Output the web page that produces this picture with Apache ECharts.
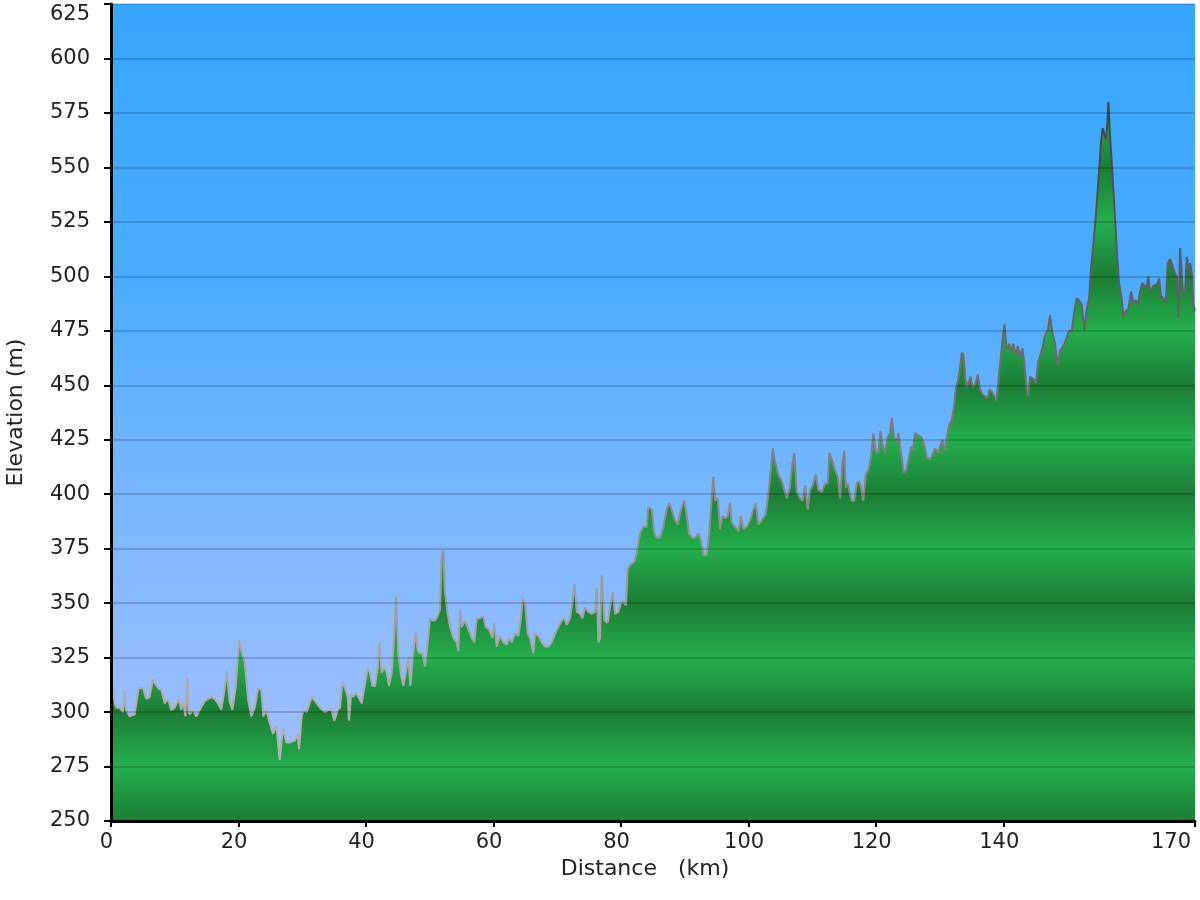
<!DOCTYPE html>
<html>
<head>
<meta charset="utf-8">
<script src="https://cdn.jsdelivr.net/npm/echarts@6/dist/echarts.min.js"></script>
<style>
html,body{margin:0;padding:0;background:#ffffff;}
#chart{width:1200px;height:900px;}
</style>
</head>
<body>
<div id="chart"></div>
<script>
// ---- data ----
const distanceKm = [
0,0.25,0.58,0.84,1.36,1.88,2.14,2.35,2.56,2.93,3.71,4.34,5.02,5.54,6.06,6.59,6.95,7.37,7.9,8.42,8.94,9.46,9.99,10.6,11.03,11.3,11.66,11.97,12.15,12.34,12.86,13.38,13.9,14.69,15.73,16.26,16.78,17.3,17.83,18.14,18.6,19.03,19.55,20.08,20.44,20.97,21.49,22.0,22.54,23.06,23.58,23.89,24.36,24.89,25.41,25.93,26.46,26.98,27.49,28.03,28.34,28.86,29.28,29.49,29.91,30.17,30.69,31.47,32.0,32.78,33.56,34.09,34.61,35.03,35.55,35.92,36.28,36.7,37.12,37.33,37.64,38.0,38.38,38.79,39.32,39.73,40.26,40.62,40.98,41.41,41.83,42.08,42.45,42.87,43.24,43.6,44.02,44.44,44.7,45.06,45.48,45.85,46.22,46.63,46.95,47.32,47.78,48.1,48.46,48.83,49.25,49.67,50.03,50.4,50.82,51.23,51.6,51.86,52.12,52.38,52.8,53.17,53.69,54.21,54.47,54.74,55.0,55.52,56.04,56.57,56.98,57.35,57.87,58.39,58.76,59.28,59.81,60.12,60.49,61.01,61.53,62.06,62.47,62.84,63.36,63.89,64.3,64.57,64.93,65.35,65.71,66.24,66.5,67.02,67.55,68.07,68.59,69.12,69.64,70.16,70.69,71.1,71.47,71.99,72.36,72.67,73.04,73.56,73.93,74.34,74.86,75.39,75.91,76.17,76.43,76.69,76.96,77.37,77.9,78.26,78.68,79.05,79.57,80.09,80.51,80.77,81.04,81.56,82.08,82.45,82.97,83.49,84.02,84.27,84.43,84.8,85.21,85.58,86.1,86.62,87.15,87.52,87.93,88.46,88.88,89.24,89.61,89.92,90.29,90.65,91.17,91.59,92.11,92.53,92.95,93.42,93.79,94.1,94.47,94.73,95.15,95.52,95.88,96.3,96.72,97.08,97.35,97.87,98.39,98.81,99.17,99.7,100.22,100.74,101.11,101.52,102.05,102.68,103.09,103.51,103.78,104.14,104.66,105.19,105.6,105.97,106.49,106.86,107.17,107.54,108.06,108.48,108.85,109.27,109.63,110.05,110.52,110.93,111.46,111.98,112.4,112.66,113.03,113.55,113.97,114.34,114.7,115.01,115.23,115.54,115.9,116.17,116.58,116.95,117.32,117.63,117.99,118.36,118.78,119.2,119.56,119.93,120.35,120.66,120.97,121.39,121.81,122.18,122.44,122.8,123.23,123.49,123.9,124.32,124.69,125.05,125.47,125.73,126.1,126.62,127.14,127.56,127.93,128.45,128.82,129.23,129.65,130.02,130.38,130.7,131.07,131.43,131.85,132.21,132.53,132.89,133.16,133.42,133.68,133.94,134.2,134.57,134.83,135.09,135.51,135.93,136.29,136.66,137.08,137.44,137.75,138.13,138.54,138.86,139.17,139.54,139.86,140.11,140.48,140.84,141.15,141.52,141.89,142.2,142.57,142.93,143.25,143.61,143.87,144.13,144.66,145.02,145.44,145.96,146.49,146.91,147.27,147.64,148.06,148.48,148.84,149.36,149.89,150.25,150.67,151.08,151.45,151.82,152.24,152.65,153.02,153.39,153.7,154.06,154.43,154.85,155.27,155.53,155.79,156.05,156.32,156.42,156.68,156.95,157.36,157.73,158.09,158.51,158.77,159.14,159.55,159.97,160.34,160.71,161.02,161.38,161.75,162.17,162.43,162.69,162.95,163.32,163.64,164.0,164.37,164.68,165.05,165.42,165.73,166.09,166.46,166.88,167.14,167.4,167.67,167.93,168.19,168.45,168.72,168.98,169.24,169.51,169.77,170
];
const elevationM = [
300,312,304,302,302,300,310,301,300,298,299,311,311,306,307,315,313,311,310,304,306,301,302,306,301,305,298,316,300,299,301,298,301,305,307,306,304,301,311,319,305,301,311,333,328,323,306,298,302,311,310,298,301,295,290,294,278,293,286,286,286,287,290,283,298,301,300,307,305,302,300,301,301,296,301,302,314,311,307,296,308,307,309,307,304,311,320,318,312,312,321,332,318,321,318,312,318,336,353,327,317,312,318,325,312,325,337,328,327,327,321,332,343,342,342,344,347,371,374,355,345,339,334,332,328,347,339,342,338,334,332,343,343,344,339,338,334,341,330,335,332,331,334,332,336,335,343,352,350,336,334,327,336,335,332,330,330,332,336,339,342,343,340,343,350,359,346,345,343,348,346,345,346,357,332,334,363,342,341,348,355,345,346,351,350,349,366,368,369,373,382,385,385,394,394,393,382,380,380,385,393,396,393,388,386,391,395,397,390,382,380,380,382,379,372,372,382,394,408,397,398,384,390,389,390,396,387,385,383,390,384,385,388,393,396,386,388,391,400,412,421,415,409,406,402,398,403,414,419,401,398,397,404,393,402,404,409,402,401,405,405,419,416,411,408,398,414,420,403,405,400,397,397,405,406,403,397,409,411,417,428,419,419,429,423,419,426,428,435,426,424,428,419,410,411,416,422,420,428,427,426,422,417,416,418,421,419,422,425,420,426,432,434,440,449,453,458,465,464,454,449,452,454,449,450,455,448,446,445,444,448,447,445,443,452,463,472,478,466,469,466,469,464,468,463,467,460,448,445,454,453,451,461,466,473,475,482,474,469,459,466,468,472,475,475,484,490,489,487,475,485,490,504,515,527,544,562,568,565,563,573,580,564,552,532,512,497,490,481,484,485,493,488,489,487,493,497,495,496,500,492,495,496,496,499,491,490,488,506,508,505,501,500,481,513,500,491,493,509,503,506,501,487,484
];
const xTickValues = [0, 20, 40, 60, 80, 100, 120, 140, 170];
const xMin = 0, xMax = 170;
const yMin = 250, yMax = 625, yStep = 25;
const xTitle = 'Distance   (km)';
const yTitle = 'Elevation (m)';

// ---- layout / style ----
const W = 1200, H = 900;
const GRID = { left: 111, right: 5, top: 4, bottom: 79 };
const plotTop = GRID.top, plotBottom = H - GRID.bottom;
const FONT = 'DejaVu Sans';

// repeating green bands (dark at every 50 m, light in between)
const bandStops = [];
for (let v = yMin; v <= yMax; v += yStep) {
  const off = (yMax - v) / (yMax - yMin);
  const dark = ((v - yMin) / yStep) % 2 === 0;
  bandStops.push({ offset: off, color: dark ? '#1c7d35' : '#24ae4d' });
}
bandStops.sort((a, b) => a.offset - b.offset);

const areaFill = {
  type: 'linear', x: 0, y: plotTop, x2: 0, y2: plotBottom, global: true,
  colorStops: bandStops
};
const lineColor = {
  type: 'linear', x: 0, y: plotTop, x2: 0, y2: plotBottom, global: true,
  colorStops: [
    { offset: 0, color: '#333333' },
    { offset: 0.13, color: '#444444' },
    { offset: 0.4, color: '#666666' },
    { offset: 0.6, color: '#8a8a8a' },
    { offset: 0.8, color: '#a8a8a8' },
    { offset: 1, color: '#b8b8b8' }
  ]
};
const skyFill = {
  type: 'linear', x: 0, y: 0, x2: 0, y2: 1,
  colorStops: [
    { offset: 0, color: '#36a6ff' },
    { offset: 0.33, color: '#4aabff' },
    { offset: 0.55, color: '#70b5ff' },
    { offset: 0.75, color: '#8cbbff' },
    { offset: 0.9, color: '#9cbdff' },
    { offset: 1, color: '#a8c0ff' }
  ]
};

const points = distanceKm.map((d, i) => [d, elevationM[i]]);

const chart = echarts.init(document.getElementById('chart'), null, { renderer: 'canvas' });
chart.setOption({
  animation: false,
  backgroundColor: '#ffffff',
  grid: {
    left: GRID.left, right: GRID.right, top: GRID.top, bottom: GRID.bottom,
    containLabel: false, outerBoundsMode: 'none',
    show: true, backgroundColor: skyFill, borderWidth: 0
  },
  xAxis: {
    type: 'value', min: xMin, max: xMax, z: 5,
    name: xTitle, nameLocation: 'middle', nameGap: 25,
    nameTextStyle: { fontFamily: FONT, fontSize: 22, color: '#222', padding: [0, 16, 0, 0] },
    axisLine: { show: true, onZero: false, lineStyle: { color: '#000', width: 3 } },
    axisTick: { show: true, length: 6, lineStyle: { color: '#000', width: 2 }, customValues: xTickValues },
    axisLabel: {
      fontFamily: FONT, fontSize: 21, color: '#222', margin: 11,
      customValues: xTickValues, alignMaxLabel: 'right',
      formatter: v => (v === xMax ? '{e|' + v + '}' : '{n|' + v + '}'),
      rich: {
        n: { fontFamily: FONT, fontSize: 21, color: '#222', padding: [0, 9, 0, 0] },
        e: { fontFamily: FONT, fontSize: 21, color: '#222', padding: [0, 4, 0, 0] }
      }
    },
    splitLine: { show: false }
  },
  yAxis: {
    type: 'value', min: yMin, max: yMax, interval: yStep, z: 5,
    name: yTitle, nameLocation: 'middle', nameGap: 84,
    nameTextStyle: { fontFamily: FONT, fontSize: 22, color: '#222' },
    axisLine: { show: true, lineStyle: { color: '#000', width: 3 } },
    axisTick: { show: true, length: 7, lineStyle: { color: '#000', width: 2 } },
    axisLabel: {
      fontFamily: FONT, fontSize: 21, color: '#222', margin: 21,
      verticalAlignMaxLabel: 'top'
    },
    splitLine: { show: true, lineStyle: { color: 'rgba(0,0,0,0.22)', width: 1.5 } }
  },
  series: [{
    type: 'line',
    data: points,
    showSymbol: false,
    symbol: 'none',
    smooth: false,
    z: 2,
    lineStyle: { color: lineColor, width: 2 },
    areaStyle: { origin: 'start', color: areaFill, opacity: 1 }
  }]
});
</script>
</body>
</html>
